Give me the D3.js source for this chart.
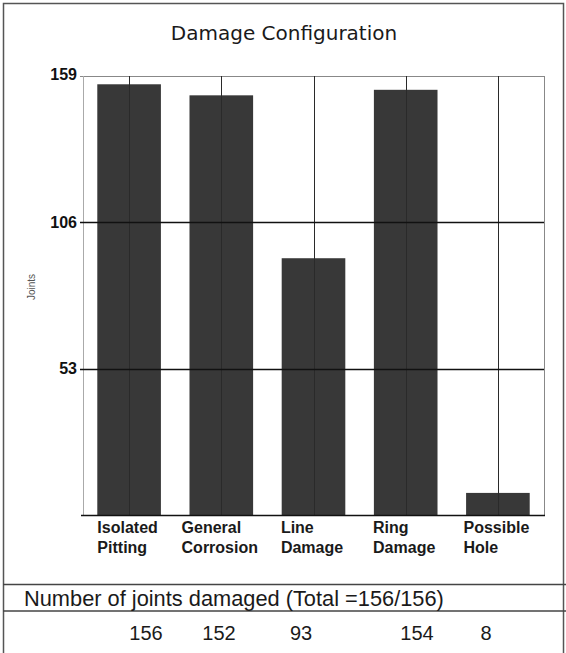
<!DOCTYPE html>
<html>
<head>
<meta charset="utf-8">
<script src="https://cdn.jsdelivr.net/npm/d3@7"></script>
<style>
  html, body { margin: 0; padding: 0; background: #fff; }
  svg { display: block; }
</style>
</head>
<body>
<svg id="chart" width="566" height="653"></svg>
<script>
// ---- data ----
const chartTitle = "Damage Configuration";
const yAxisTitle = "Joints";
const categories = [["Isolated", "Pitting"], ["General", "Corrosion"], ["Line", "Damage"], ["Ring", "Damage"], ["Possible", "Hole"]];
const values = [156, 152, 93, 154, 8];
const yTicks = [53, 106, 159];
const yMax = 159;
const tableCaption = "Number of joints damaged (Total =156/156)";
const tableValues = ["156", "152", "93", "154", "8"];

// ---- layout ----
const W = 566, H = 653;
const plot = { left: 83, right: 544, top: 76, bottom: 515 };
const tableColX = [146, 219, 301, 417, 486];

const svg = d3.select("#chart");

// outer border
svg.append("rect").attr("x", 3.5).attr("y", 3.5).attr("width", 560).attr("height", H + 20)
  .attr("fill", "none").attr("stroke", "#555").attr("stroke-width", 1.5);

// title
svg.append("text").attr("x", 284).attr("y", 40).attr("text-anchor", "middle")
  .attr("font-family", "DejaVu Sans").attr("font-size", 20).attr("fill", "#1a1a1a")
  .text(chartTitle);

const keys = categories.map((c, i) => i);
const x = d3.scaleBand().domain(keys).range([plot.left, plot.right]).padding(0);
const y = d3.scaleLinear().domain([0, yMax]).range([plot.bottom, plot.top]);
const barW = x.bandwidth() * 0.69;

// bars
svg.append("g").selectAll("rect").data(values).join("rect")
  .attr("x", (d, i) => x(i) + x.bandwidth() / 2 - barW / 2)
  .attr("y", d => y(d))
  .attr("width", barW)
  .attr("height", d => y(0) - y(d))
  .attr("fill", "#383838");

// frame: top, left, right
svg.append("line").attr("x1", plot.left - 3).attr("x2", plot.right).attr("y1", plot.top + 0.5).attr("y2", plot.top + 0.5)
  .attr("stroke", "#888").attr("stroke-width", 1);
svg.append("line").attr("x1", plot.left + 0.5).attr("x2", plot.left + 0.5).attr("y1", plot.top).attr("y2", plot.bottom)
  .attr("stroke", "#aaa").attr("stroke-width", 1);
svg.append("line").attr("x1", plot.right + 0.5).attr("x2", plot.right + 0.5).attr("y1", plot.top).attr("y2", plot.bottom)
  .attr("stroke", "#888").attr("stroke-width", 1);

// vertical gridlines through band centers (over bars)
svg.append("g").selectAll("line").data(keys).join("line")
  .attr("x1", d => Math.round(x(d) + x.bandwidth() / 2) + 0.5)
  .attr("x2", d => Math.round(x(d) + x.bandwidth() / 2) + 0.5)
  .attr("y1", plot.top).attr("y2", plot.bottom)
  .attr("stroke", "#2a2a2a").attr("stroke-width", 1);

// horizontal gridlines
svg.append("g").selectAll("line").data(yTicks.filter(t => t < yMax)).join("line")
  .attr("x1", plot.left - 3).attr("x2", plot.right)
  .attr("y1", d => Math.round(y(d)) + 0.5).attr("y2", d => Math.round(y(d)) + 0.5)
  .attr("stroke", "#111").attr("stroke-width", 1.3);

// y tick labels
svg.append("g").selectAll("text").data(yTicks).join("text")
  .attr("x", plot.left - 6)
  .attr("y", d => y(d) + (d === yMax ? 4 : 5.5))
  .attr("text-anchor", "end")
  .attr("font-family", "Liberation Sans, Arial").attr("font-weight", "bold").attr("font-size", 16)
  .attr("fill", "#111")
  .text(d => d);

// baseline
svg.append("line").attr("x1", plot.left - 2).attr("x2", plot.right + 1).attr("y1", plot.bottom + 0.5).attr("y2", plot.bottom + 0.5)
  .attr("stroke", "#111").attr("stroke-width", 1.5);

// y axis title
svg.append("text").attr("transform", "translate(35,287) rotate(-90)")
  .attr("text-anchor", "middle")
  .attr("font-family", "Liberation Sans, Arial").attr("font-size", 10).attr("fill", "#555")
  .text(yAxisTitle);

// category labels (left-aligned block centered on bar)
const catG = svg.append("g");
categories.forEach((lines, i) => {
  const t = catG.append("text")
    .attr("font-family", "Liberation Sans, Arial").attr("font-weight", "bold").attr("font-size", 16)
    .attr("fill", "#1a1a1a");
  lines.forEach((ln, j) => {
    t.append("tspan").attr("y", 533 + j * 20).text(ln);
  });
  let maxW = 0;
  t.selectAll("tspan").each(function() { maxW = Math.max(maxW, this.getComputedTextLength()); });
  const x0 = x(i) + x.bandwidth() / 2 - maxW / 2 - 1.5;
  t.selectAll("tspan").attr("x", x0);
});

// table
svg.append("line").attr("x1", 3).attr("x2", W).attr("y1", 584.5).attr("y2", 584.5)
  .attr("stroke", "#444").attr("stroke-width", 1.5);
svg.append("line").attr("x1", 3).attr("x2", W).attr("y1", 611).attr("y2", 611)
  .attr("stroke", "#444").attr("stroke-width", 1.5);
svg.append("text").attr("x", 24).attr("y", 605.5)
  .attr("font-family", "Liberation Sans, Arial").attr("font-size", 21.8).attr("fill", "#1a1a1a")
  .text(tableCaption);
svg.append("g").selectAll("text").data(tableValues).join("text")
  .attr("x", (d, i) => tableColX[i]).attr("y", 640)
  .attr("text-anchor", "middle")
  .attr("font-family", "Liberation Sans, Arial").attr("font-size", 20).attr("fill", "#1a1a1a")
  .text(d => d);
</script>
</body>
</html>
